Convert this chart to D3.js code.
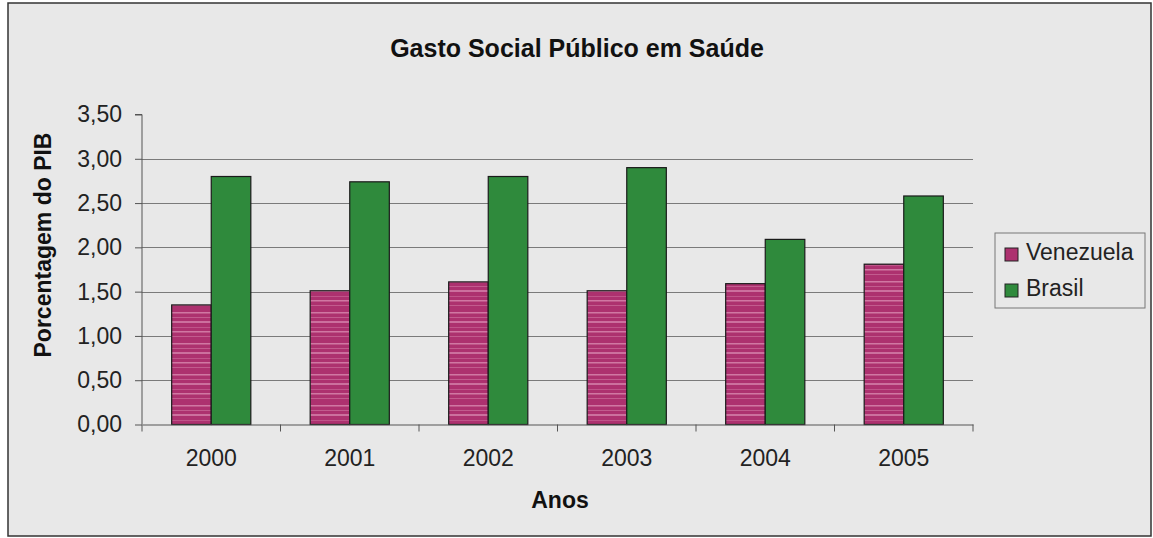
<!DOCTYPE html>
<html>
<head>
<meta charset="utf-8">
<script src="https://cdn.jsdelivr.net/npm/d3@7"></script>
<style>
  body { margin: 0; background: #ffffff; }
  svg { display: block; font-family: Arial, "Liberation Sans", sans-serif; }
</style>
</head>
<body>
<div id="chart"></div>
<script>
var anos = ["2000", "2001", "2002", "2003", "2004", "2005"];
var series = ["Venezuela", "Brasil"];
var venezuela = [1.35, 1.51, 1.61, 1.51, 1.59, 1.81];
var brasil = [2.80, 2.74, 2.80, 2.90, 2.09, 2.58];
var yTicks = [0, 0.5, 1, 1.5, 2, 2.5, 3, 3.5];

var W = 1153, H = 538;
var margin = {left: 142, right: 180, top: 114.5, bottom: 113.5};
var cores = {Venezuela: "#ad316f", Brasil: "#2f8a3c"};
var fonte = "Arial, 'Liberation Sans', sans-serif";

var svg = d3.select("#chart")
            .append("svg")
            .attr("width", W)
            .attr("height", H);

// padrao listrado das barras da Venezuela
var defs = svg.append("defs");
var pat = defs.append("pattern")
              .attr("id", "listras")
              .attr("patternUnits", "userSpaceOnUse")
              .attr("width", 40)
              .attr("height", 31);
pat.append("rect").attr("width", 40).attr("height", 31).attr("fill", "#ad316f");
var faixas = [[2, 1.5, 0.5], [7, 1, 0.3], [11, 2, 0.45], [17, 1, 0.25], [21, 1.5, 0.5], [26, 1, 0.3]];
faixas.forEach(function(f){
  pat.append("rect")
     .attr("x", 0).attr("y", f[0])
     .attr("width", 40).attr("height", f[1])
     .attr("fill", "#f3bdd8")
     .attr("opacity", f[2]);
});

// fundo e moldura
svg.append("rect")
   .attr("x", 8).attr("y", 3)
   .attr("width", 1143).attr("height", 533)
   .attr("fill", "#e8e8e8")
   .attr("stroke", "#333")
   .attr("stroke-width", 1.5);

var x0 = d3.scaleBand()
           .domain(anos)
           .range([margin.left, W - margin.right])
           .paddingInner(0)
           .paddingOuter(0);

var x1 = d3.scaleBand()
           .domain(series)
           .range([0, x0.bandwidth()])
           .paddingInner(0)
           .paddingOuter(0.75);

var y = d3.scaleLinear()
          .domain([0, 3.5])
          .range([424.5, margin.top]);

var fmt = function(d){ return d3.format(".2f")(d).replace(".", ","); };

// linhas de grade
svg.append("g")
   .selectAll("line")
   .data(yTicks.filter(function(d){ return d > 0 && d < 3.5; }))
   .enter().append("line")
   .attr("x1", margin.left)
   .attr("x2", x0.range()[1])
   .attr("y1", function(d){ return Math.round(y(d)) + 0.5; })
   .attr("y2", function(d){ return Math.round(y(d)) + 0.5; })
   .attr("stroke", "#7a7a7a")
   .attr("stroke-width", 1);

// barras
var dados = anos.map(function(a, i){
  return {ano: a, valores: [{s: "Venezuela", v: venezuela[i]}, {s: "Brasil", v: brasil[i]}]};
});

var grupos = svg.append("g")
                .selectAll("g")
                .data(dados)
                .enter().append("g")
                .attr("transform", function(d){ return "translate(" + x0(d.ano) + ",0)"; });

grupos.selectAll("rect")
      .data(function(d){ return d.valores; })
      .enter().append("rect")
      .attr("x", function(d){ return x1(d.s); })
      .attr("y", function(d){ return y(d.v); })
      .attr("width", x1.bandwidth())
      .attr("height", function(d){ return y(0) - y(d.v); })
      .attr("fill", function(d){ return d.s === "Venezuela" ? "url(#listras)" : cores.Brasil; })
      .attr("stroke", "#1a1a1a")
      .attr("stroke-width", 1.2);

// eixo Y
var yAxis = d3.axisLeft(y)
              .tickValues(yTicks)
              .tickFormat(fmt)
              .tickSize(7)
              .tickPadding(13);

var gy = svg.append("g")
            .attr("transform", "translate(" + margin.left + ",0)")
            .call(yAxis);
gy.select(".domain").attr("stroke", "#555").attr("d", "M-7," + y(3.5) + "H0V" + y(0));
gy.selectAll(".tick line").attr("stroke", "#555");
gy.selectAll("text")
  .attr("font-size", "23px")
  .attr("fill", "#222")
  .attr("font-family", fonte);

// eixo X
var xAxis = d3.axisBottom(x0).tickSize(0).tickPadding(25);
var gx = svg.append("g")
            .attr("transform", "translate(0," + y(0) + ")")
            .call(xAxis);
gx.select(".domain").attr("stroke", "#555");
gx.selectAll("text")
  .attr("font-size", "23px")
  .attr("fill", "#222")
  .attr("font-family", fonte);

// marcas entre categorias
svg.append("g")
   .selectAll("line")
   .data(anos.concat(["fim"]))
   .enter().append("line")
   .attr("x1", function(d, i){ return x0.range()[0] + i * x0.bandwidth(); })
   .attr("x2", function(d, i){ return x0.range()[0] + i * x0.bandwidth(); })
   .attr("y1", y(0))
   .attr("y2", y(0) + 7)
   .attr("stroke", "#555");

// titulos
svg.append("text")
   .attr("x", 577).attr("y", 57)
   .attr("text-anchor", "middle")
   .attr("font-size", "25px")
   .attr("font-weight", "bold")
   .attr("fill", "#111")
   .text("Gasto Social Público em Saúde");

svg.append("text")
   .attr("x", 560).attr("y", 508)
   .attr("text-anchor", "middle")
   .attr("font-size", "23px")
   .attr("font-weight", "bold")
   .attr("fill", "#111")
   .text("Anos");

svg.append("text")
   .attr("transform", "translate(51,245) rotate(-90)")
   .attr("text-anchor", "middle")
   .attr("font-size", "23px")
   .attr("font-weight", "bold")
   .attr("fill", "#111")
   .text("Porcentagem do PIB");

// legenda
var leg = svg.append("g").attr("transform", "translate(995,233)");
leg.append("rect")
   .attr("width", 150).attr("height", 75)
   .attr("fill", "#e8e8e8")
   .attr("stroke", "#777");

var itens = leg.selectAll("g")
               .data(series)
               .enter().append("g")
               .attr("transform", function(d, i){ return "translate(10," + (15 + i * 36) + ")"; });
itens.append("rect")
     .attr("width", 13).attr("height", 13)
     .attr("fill", function(d){ return cores[d]; })
     .attr("stroke", "#222");
itens.append("text")
     .attr("x", 21).attr("y", 12)
     .attr("font-size", "23px")
     .attr("fill", "#222")
     .text(function(d){ return d; });
</script>
</body>
</html>
